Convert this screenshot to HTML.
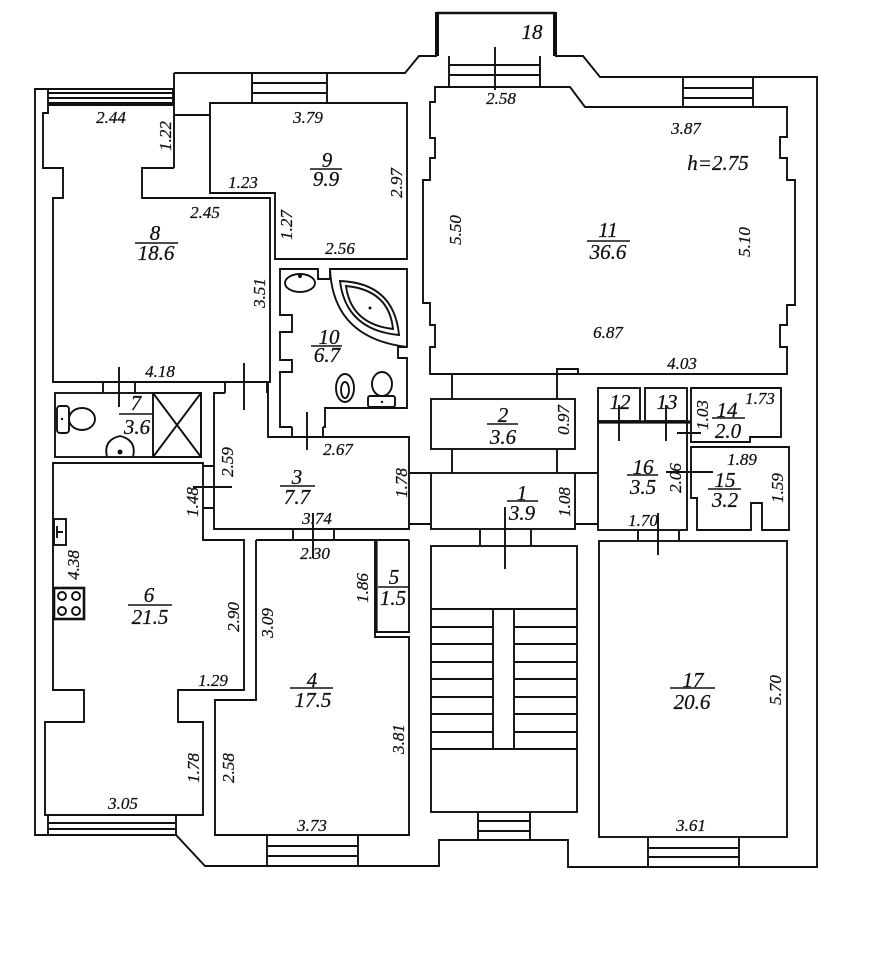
<!DOCTYPE html>
<html><head><meta charset="utf-8"><style>
html,body{margin:0;padding:0;background:#fff;}
svg{display:block;}
text{font-family:"Liberation Serif",serif;font-style:italic;fill:#111;stroke:#111;stroke-width:0.25;}
.d{font-size:17px;}
.r{font-size:21px;}
</style></head><body>
<svg width="877" height="960" viewBox="0 0 877 960" xmlns="http://www.w3.org/2000/svg">
<rect width="877" height="960" fill="#fff"/>
<g fill="none" stroke="#111" stroke-width="1.9" stroke-linejoin="miter">
<!-- outer walls -->
<path d="M174,73 H405 L419,56 H437"/>
<path d="M555,56 H583 L600,77 H817 V867 H568 V840 H439 V866 H205 L176,835 H35 V89 H174"/>
<path d="M174,73 V168"/>
<!-- balcony 18 -->
<path d="M437,13 H555" stroke-width="2.4"/>
<path d="M437,12 V56 M555,12 V56" stroke-width="4"/>
<path d="M495,47 V90"/>
<!-- top-left window -->
<path d="M48,89 V105 M173,89 V105 M48,93 H173 M48,98 H173 M48,103 H173"/>
<!-- room 8 -->
<path d="M48,105 H174 M48,105 V113 H43 V168 H63 V198 H53 V382 H270 V198 H142 V168 H174"/>
<path d="M174,115 H210"/>
<!-- room 9 -->
<path d="M210,103 H407 V259 H275 V193 H210 Z"/>
<path d="M252,73 V103 M327,73 V103 M252,83 H327 M252,93 H327"/>
<!-- room 11 -->
<path d="M435,87 H570 L585,107 H787 V137 H780 V158 H787 V180 H795 V305 H787 V325 H780 V347 H787 V374 H430 V347 H435 V325 H430 V303 H423 V180 H430 V158 H435 V138 H430 V102 H435 Z"/>
<path d="M449,56 V87 M540,56 V87 M449,65 H540 M449,75 H540"/>
<path d="M683,77 V107 M753,77 V107 M683,88 H753 M683,98 H753"/>
<path d="M557,374 V369 H578 V374"/>
<!-- corridor 2, 1 -->
<path d="M452,374 V399 M557,374 V399 M452,449 V473 M557,449 V473"/>
<rect x="431" y="399" width="144" height="50"/>
<rect x="431" y="473" width="144" height="56"/>
<path d="M409,473 H431 M409,524 H431 M575,473 H598 M575,524 H598"/>
<path d="M480,529 V546 M531,529 V546"/>
<!-- stair -->
<rect x="431" y="546" width="146" height="266"/>
<path d="M431,609 H577 M431,749 H577"/>
<rect x="493" y="609" width="21" height="140"/>
<path d="M431,627 H493 M431,644 H493 M431,662 H493 M431,679 H493 M431,697 H493 M431,714 H493 M431,732 H493"/>
<path d="M514,627 H577 M514,644 H577 M514,662 H577 M514,679 H577 M514,697 H577 M514,714 H577 M514,732 H577"/>
<path d="M478,812 V840 M530,812 V840 M478,821 H530 M478,831 H530"/>
<path d="M505,507 V569"/>
<!-- room 3 -->
<path d="M225,393 H214 V529 H409 V437 H268 V382"/>
<path d="M225,382 V393 M267,382 V393"/>
<path d="M244,363 V410"/>
<path d="M292,427 V437 M323,427 V437 M307,412 V450"/>
<path d="M293,529 V540 M334,529 V540 M313,513 V558"/>
<path d="M203,466 H214 M203,508 H214 M193,487 H232"/>
<!-- room 10 -->
<path d="M292,427 H280 V372 H292 V360 H280 V332 H292 V315 H280 V269 H318 V279 H330 V269 H407 V347 H398 V358 H407 V408 H325 V427 H323"/>
<ellipse cx="300" cy="283" rx="15" ry="9"/>
<path d="M330,269 Q333,338 407,347"/>
<path d="M340,281 Q394,283 399,335 Q346,330 340,281 Z"/>
<path d="M346,286 Q389,290 393,329 Q351,324 346,286 Z"/>
<ellipse cx="345" cy="388" rx="9" ry="14"/>
<ellipse cx="345" cy="390" rx="4" ry="8"/>
<ellipse cx="382" cy="384" rx="10" ry="12"/>
<rect x="368" y="396" width="27" height="11" rx="2"/>
<!-- room 7 -->
<rect x="55" y="393" width="146" height="64"/>
<rect x="153" y="393" width="48" height="64"/>
<path d="M153,393 L201,457 M201,393 L153,457"/>
<path d="M103,382 V393 M135,382 V393 M119,367 V407"/>
<rect x="57" y="406" width="12" height="27" rx="3"/>
<ellipse cx="82" cy="419" rx="13" ry="11"/>
<path d="M107,457 Q103,440 120,436 Q137,440 133,457"/>
<!-- room 6 -->
<path d="M53,463 H203 V540 H244 V690 H178 V722 H203 V815 H45 V722 H84 V690 H53 Z"/>
<path d="M48,815 V835 M176,815 V835 M48,823 H176 M48,829 H176"/>
<rect x="54" y="519" width="12" height="26"/>
<path d="M57,526 V538 M57,532 H63"/>
<rect x="54" y="588" width="30" height="31" stroke-width="2.6"/>
<circle cx="62" cy="596" r="4"/><circle cx="76" cy="596" r="4"/>
<circle cx="62" cy="611" r="4"/><circle cx="76" cy="611" r="4"/>
<!-- room 4 / 5 -->
<path d="M256,540 H409 M256,540 V700 H215 V835 H409 V637 H375 V632"/>
<path d="M375,540 V632 H409 V540"/>
<path d="M376,540 V632" stroke-width="3.2"/>
<path d="M267,835 V866 M358,835 V866 M267,846 H358 M267,856 H358"/>
<!-- right block -->
<rect x="598" y="388" width="42" height="33"/>
<rect x="645" y="388" width="42" height="33"/>
<path d="M598,422 H690" stroke-width="3.2"/>
<rect x="598" y="422" width="89" height="108"/>
<path d="M691,388 H781 V437 H750 V442 H691 Z"/>
<path d="M691,447 H789 V530 H762 V503 H751 V530 H697 V498 H691 Z"/>
<path d="M638,530 V541 M679,530 V541"/>
<rect x="599" y="541" width="188" height="296"/>
<path d="M648,837 V867 M739,837 V867 M648,848 H739 M648,857 H739"/>
<path d="M619,405 V441 M666,405 V441 M677,433 H701 M666,472 H713 M658,513 V555"/>
<!-- fraction bars -->
<path d="M135,243 H178 M310,169 H342 M311,346 H342 M587,241 H630 M119,414 H152 M128,605 H172 M280,486 H315 M378,587 H409 M290,688 H333 M670,688 H715 M487,424 H518 M507,501 H538 M627,475 H658 M712,418 H745 M708,489 H741" stroke-width="1.4"/>
</g>
<g fill="#111">
<circle cx="370" cy="308" r="1.5"/>
<circle cx="382" cy="402" r="1.2"/>
<circle cx="300" cy="276" r="2"/>
<circle cx="62" cy="419" r="1.2"/>
<circle cx="120" cy="452" r="2.5"/>
</g>
<!-- room labels -->
<g class="r" text-anchor="middle">
<text x="532" y="39">18</text>
<text x="155" y="240">8</text><text x="156" y="260">18.6</text>
<text x="327" y="167">9</text><text x="326" y="186">9.9</text>
<text x="329" y="344">10</text><text x="327" y="362">6.7</text>
<text x="608" y="237">11</text><text x="608" y="259">36.6</text>
<text x="136" y="410">7</text><text x="137" y="434">3.6</text>
<text x="149" y="602">6</text><text x="150" y="624">21.5</text>
<text x="297" y="484">3</text><text x="297" y="504">7.7</text>
<text x="394" y="584">5</text><text x="393" y="605">1.5</text>
<text x="312" y="687">4</text><text x="313" y="707">17.5</text>
<text x="693" y="687">17</text><text x="692" y="709">20.6</text>
<text x="503" y="422">2</text><text x="503" y="444">3.6</text>
<text x="522" y="500">1</text><text x="522" y="520">3.9</text>
<text x="643" y="474">16</text><text x="643" y="494">3.5</text>
<text x="727" y="417">14</text><text x="728" y="438">2.0</text>
<text x="725" y="487">15</text><text x="725" y="507">3.2</text>
<text x="620" y="409">12</text><text x="667" y="409">13</text>
<text x="718" y="170">h=2.75</text>
</g>
<!-- dimension labels -->
<g class="d" text-anchor="middle">
<text x="111" y="123">2.44</text>
<text x="308" y="123">3.79</text>
<text x="243" y="188">1.23</text>
<text x="205" y="218">2.45</text>
<text x="340" y="254">2.56</text>
<text x="160" y="377">4.18</text>
<text x="338" y="455">2.67</text>
<text x="501" y="104">2.58</text>
<text x="686" y="134">3.87</text>
<text x="608" y="338">6.87</text>
<text x="682" y="369">4.03</text>
<text x="317" y="524">3.74</text>
<text x="315" y="559">2.30</text>
<text x="213" y="686">1.29</text>
<text x="123" y="809">3.05</text>
<text x="312" y="831">3.73</text>
<text x="691" y="831">3.61</text>
<text x="760" y="404">1.73</text>
<text x="742" y="465">1.89</text>
<text x="643" y="526">1.70</text>
<text transform="translate(171,136) rotate(-90)">1.22</text>
<text transform="translate(402,183) rotate(-90)">2.97</text>
<text transform="translate(292,225) rotate(-90)">1.27</text>
<text transform="translate(265,293) rotate(-90)">3.51</text>
<text transform="translate(461,230) rotate(-90)">5.50</text>
<text transform="translate(750,242) rotate(-90)">5.10</text>
<text transform="translate(233,462) rotate(-90)">2.59</text>
<text transform="translate(198,502) rotate(-90)">1.48</text>
<text transform="translate(407,483) rotate(-90)">1.78</text>
<text transform="translate(79,565) rotate(-90)">4.38</text>
<text transform="translate(239,617) rotate(-90)">2.90</text>
<text transform="translate(273,623) rotate(-90)">3.09</text>
<text transform="translate(368,588) rotate(-90)">1.86</text>
<text transform="translate(199,768) rotate(-90)">1.78</text>
<text transform="translate(234,768) rotate(-90)">2.58</text>
<text transform="translate(404,739) rotate(-90)">3.81</text>
<text transform="translate(569,420) rotate(-90)">0.97</text>
<text transform="translate(570,502) rotate(-90)">1.08</text>
<text transform="translate(708,415) rotate(-90)">1.03</text>
<text transform="translate(681,478) rotate(-90)">2.06</text>
<text transform="translate(783,488) rotate(-90)">1.59</text>
<text transform="translate(781,690) rotate(-90)">5.70</text>
</g>
</svg>
</body></html>
